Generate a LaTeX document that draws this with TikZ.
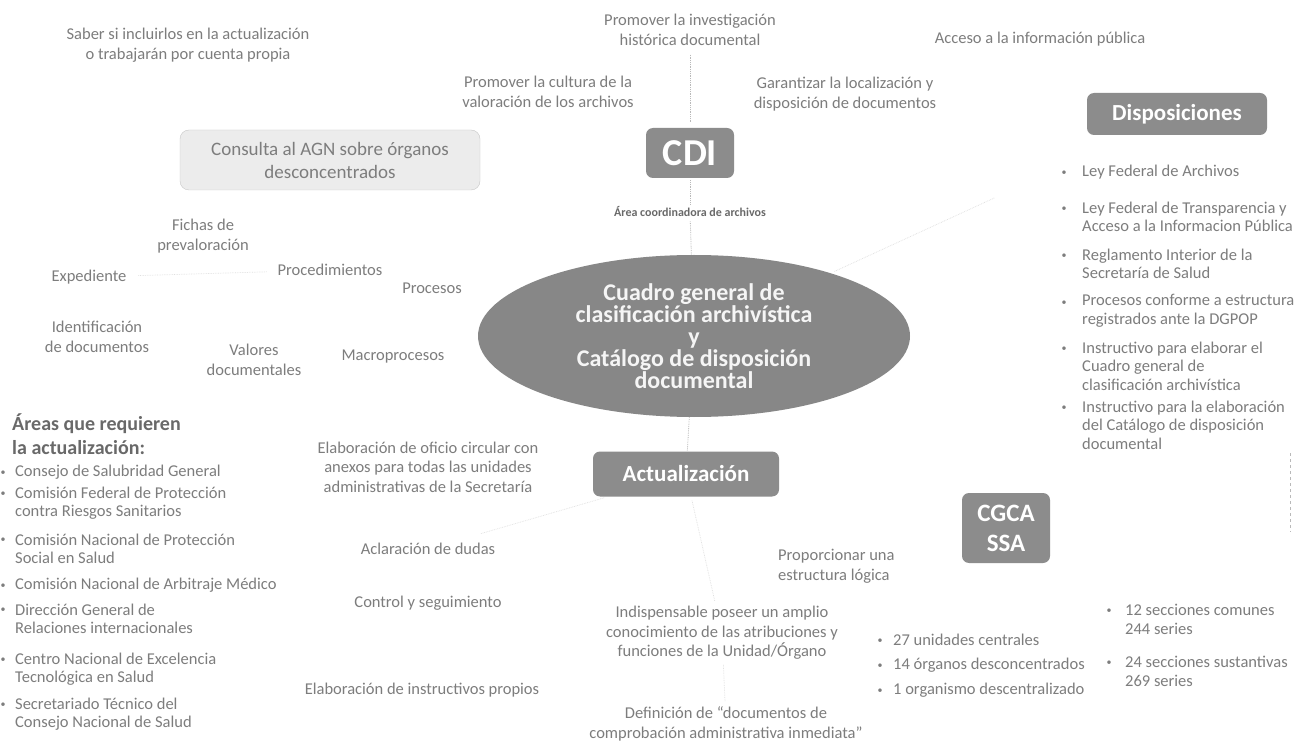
\documentclass[tikz,border=0pt]{standalone}
\usepackage{fontspec}
\setmainfont{Carlito}
\usetikzlibrary{shapes.geometric}
\definecolor{txt}{RGB}{125,125,125}
\definecolor{darktxt}{RGB}{105,105,105}
\definecolor{boxfill}{RGB}{140,140,140}
\definecolor{ellfill}{RGB}{135,135,135}
\definecolor{lightbox}{RGB}{236,236,236}
\definecolor{lightborder}{RGB}{200,200,200}
\definecolor{linkc}{RGB}{185,185,185}
\begin{document}
\begin{tikzpicture}[x=1pt,y=-1pt,
  lbl/.style={text=txt, font=\fontsize{16.5}{19.5}\selectfont, align=center, inner sep=1pt},
  li/.style={text=txt, font=\fontsize{16.5}{18.5}\selectfont, align=left, anchor=west, inner sep=0pt},
  bul/.style={text=txt, font=\fontsize{10}{10}\selectfont, inner sep=0pt},
  darkbox/.style={fill=boxfill, rounded corners=7pt, text=white, align=center, inner sep=0pt},
  conn/.style={draw=linkc, densely dotted, line width=0.8pt},
  faint/.style={draw=linkc!45, densely dotted, line width=0.7pt},
]
\fill[white] (0,0) rectangle (1310,751);
\useasboundingbox (0,0) rectangle (1310,751);

% ---------- top labels
\node[lbl] (saber) at (188,45) {Saber si incluirlos en la actualización\\o trabajarán por cuenta propia};
\node[lbl] (inv) at (690,30) {Promover la investigación\\histórica documental};
\node[lbl] (acceso) at (1040,39) {Acceso a la información pública};
\node[lbl] (cultura) at (548,92) {Promover la cultura de la\\valoración de los archivos};
\node[lbl] (garant) at (845,94) {Garantizar la localización y\\disposición de documentos};

% ---------- boxes
\node[darkbox, minimum width=88pt, minimum height=50pt, font=\bfseries\fontsize{38}{38}\selectfont] (cdi) at (690,153) {CDI};
\node[draw=lightborder, fill=lightbox, rounded corners=9pt, minimum width=300pt, minimum height=60pt, text=txt, align=center, inner sep=0pt, font=\fontsize{19}{23}\selectfont] (consulta) at (330,160) {Consulta al AGN sobre órganos\\desconcentrados};
\node[darkbox, minimum width=180pt, minimum height=42pt, font=\bfseries\fontsize{23}{23}\selectfont] (dispos) at (1177,114) {Disposiciones};
\node[text=darktxt, font=\bfseries\fontsize{12}{14}\selectfont, inner sep=1pt] (area) at (690,212) {Área coordinadora de archivos};

% ---------- central ellipse
\node[ellipse, fill=ellfill, minimum width=432pt, minimum height=162pt, inner sep=0pt, text=white!96!black, align=center, font=\bfseries\fontsize{24}{22}\selectfont] (center) at (694,336) {Cuadro general de\\clasificación archivística\\y\\Catálogo de disposición\\documental};

% ---------- left cluster
\node[lbl] (fichas) at (203,236) {Fichas de\\prevaloración};
\node[lbl] (exped) at (89,277) {Expediente};
\node[lbl] (proced) at (330,270) {Procedimientos};
\node[lbl] (procesos) at (432,288) {Procesos};
\node[lbl] (ident) at (97,337) {Identificación\\de documentos};
\node[lbl] (valores) at (254,360) {Valores\\documentales};
\node[lbl] (macro) at (393,357) {Macroprocesos};

% ---------- areas list
\node[text=darktxt, font=\bfseries\fontsize{20}{24}\selectfont, align=left, anchor=west, inner sep=0pt] (areas) at (12,434) {Áreas que requieren\\la actualización:};
\node[li] (a1) at (15,472) {Consejo de Salubridad General};
\node[li] (a2) at (15,503) {Comisión Federal de Protección\\contra Riesgos Sanitarios};
\node[li] (a3) at (15,549) {Comisión Nacional de Protección\\Social en Salud};
\node[li] (a4) at (15,585) {Comisión Nacional de Arbitraje Médico};
\node[li] (a5) at (15,619) {Dirección General de\\Relaciones internacionales};
\node[li] (a6) at (15,669) {Centro Nacional de Excelencia\\Tecnológica en Salud};
\node[li] (a7) at (15,714) {Secretariado Técnico del\\Consejo Nacional de Salud};
\node[bul] (ab1) at (3,473) {•};
\node[bul] (ab2) at (3,494.5) {•};
\node[bul] (ab3) at (3,540.5) {•};
\node[bul] (ab4) at (3,586) {•};
\node[bul] (ab5) at (3,610.5) {•};
\node[bul] (ab6) at (3,660.5) {•};
\node[bul] (ab7) at (3,705.5) {•};

% ---------- actualizacion branch
\node[lbl] (oficio) at (428,467) {Elaboración de oficio circular con\\anexos para todas las unidades\\administrativas de la Secretaría};
\node[lbl] (aclar) at (428,549) {Aclaración de dudas};
\node[lbl] (control) at (428,603) {Control y seguimiento};
\node[lbl] (instr) at (422,690) {Elaboración de instructivos propios};
\node[darkbox, minimum width=186pt, minimum height=45pt, font=\bfseries\fontsize{23}{23}\selectfont] (act) at (686,474) {Actualización};
\node[lbl, align=left, anchor=west] (prop) at (777,566) {Proporcionar una\\estructura lógica};
\node[lbl] (indisp) at (722,633) {Indispensable poseer un amplio\\conocimiento de las atribuciones y\\funciones de la Unidad/Órgano};
\node[lbl] (defin) at (726,724) {Definición de “documentos de\\comprobación administrativa inmediata”};

% ---------- CGCA SSA
\node[darkbox, minimum width=88pt, minimum height=70pt, font=\bfseries\fontsize{25}{30}\selectfont] (cgca) at (1006,528) {CGCA\\SSA};
\node[li] (u1) at (893,640) {27 unidades centrales};
\node[li] (u2) at (893,665) {14 órganos desconcentrados};
\node[li] (u3) at (893,690) {1 organismo descentralizado};
\node[bul] (ub1) at (880,641) {•};
\node[bul] (ub2) at (880,666) {•};
\node[bul] (ub3) at (880,691) {•};
\node[li] (s1) at (1125,619.5) {12 secciones comunes\\244 series};
\node[li] (s2) at (1125,671.5) {24 secciones sustantivas\\269 series};
\node[bul] (sb1) at (1109,611) {•};
\node[bul] (sb2) at (1109,663) {•};

% ---------- disposiciones list
\node[li] (d1) at (1082,172) {Ley Federal de Archivos};
\node[li] (d2) at (1082,217) {Ley Federal de Transparencia y\\Acceso a la Informacion Pública};
\node[li] (d3) at (1082,264) {Reglamento Interior de la\\Secretaría de Salud};
\node[li] (d4) at (1082,311) {Procesos conforme a estructura\\registrados ante la DGPOP};
\node[li] (d5) at (1082,366) {Instructivo para elaborar el\\Cuadro general de\\clasificación archivística};
\node[li] (d6) at (1082,425) {Instructivo para la elaboración\\del Catálogo de disposición\\documental};
\node[bul] (db1) at (1064,173) {•};
\node[bul] (db2) at (1064,209) {•};
\node[bul] (db3) at (1064,256) {•};
\node[bul] (db4) at (1064,303) {•};
\node[bul] (db5) at (1064,349) {•};
\node[bul] (db6) at (1064,408) {•};

% ---------- connectors
\draw[conn, shorten <=8pt, shorten >=6pt] (inv) -- (cdi);
\draw[conn, shorten <=2pt, shorten >=2pt] (cdi) -- (area);
\draw[conn, shorten <=3pt] (area) -- (center);
\draw[conn] (center) -- (act);
\draw[faint, shorten <=4pt, shorten >=4pt] (act) -- (indisp);
\draw[faint, shorten <=4pt, shorten >=4pt] (indisp) -- (defin);
\draw[faint, shorten <=4pt, shorten >=30pt] (act) -- (aclar);
\draw[faint, shorten <=10pt, shorten >=10pt] (proced) -- (exped);
\draw[faint, shorten <=4pt, shorten >=150pt] (center) -- (dispos);
\coordinate (r1) at (1290,453);
\coordinate (r2) at (1290,532);
\draw[conn, dashed] (r1) -- (r2);
\end{tikzpicture}
\end{document}
